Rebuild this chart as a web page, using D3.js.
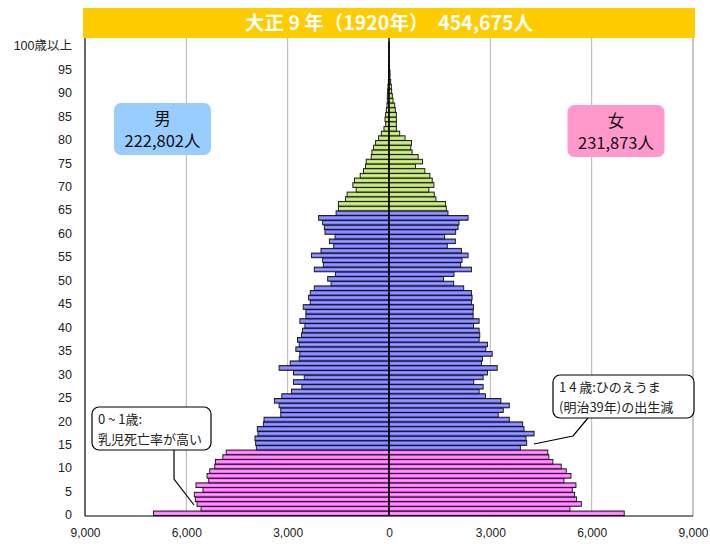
<!DOCTYPE html>
<html>
<head>
<meta charset="utf-8">
<script src="https://cdn.jsdelivr.net/npm/d3@7"></script>
<style>
body { margin: 0; background: #fff; }
text { font-family: "Liberation Sans", Arial, "Noto Sans CJK JP", sans-serif; }
.jp { font-family: "Noto Sans CJK JP", "Liberation Sans", sans-serif; }
</style>
</head>
<body>
<div id="chart"></div>
<script>
// 大正9年（1920年） population by single year of age, 0 .. 100+
var ages = d3.range(0, 101);
var ageTicks = [0, 5, 10, 15, 20, 25, 30, 35, 40, 45, 50, 55, 60, 65, 70, 75, 80, 85, 90, 95, 100];
var popTicks = [-9000, -6000, -3000, 0, 3000, 6000, 9000];

var male = [6974,5565,5684,5734,5764,5506,5714,5337,5387,5307,
  5158,5139,4920,4821,3928,3948,3968,3879,3899,3720,
  3700,3204,3204,3254,3393,3174,2887,2579,2827,2510,
  2827,3254,2926,2659,2639,2758,2659,2708,2589,2559,
  2490,2639,2460,2460,2540,2331,2381,2331,2212,1716,
  1815,1587,2212,1944,1964,2292,2014,1637,1766,1597,
  1895,1915,1964,2083,1567,1498,1498,1290,1240,972,
  1071,1022,853,754,694,675,526,506,456,397,
  308,228,149,99,119,99,79,60,50,50,
  40,30,20,10,10,5,3,2,1,1,1];

var female = [6964,5357,5694,5555,5496,5426,5535,5178,5387,5248,
  5099,4851,4732,4702,3889,4077,4057,4295,3998,3958,
  3561,3234,3383,3561,3313,2857,2668,2787,2510,2787,
  2916,3204,2738,2768,3055,2867,2916,2668,2688,2668,
  2500,2668,2490,2490,2500,2440,2460,2440,2212,1915,
  1617,1924,2440,2123,2163,2341,2143,1726,1964,1647,
  1974,2044,2073,2341,1746,1696,1676,1389,1339,1180,
  1329,1280,1210,1061,784,992,863,684,645,665,
  476,317,218,218,218,218,188,169,119,99,
  79,69,50,30,30,15,8,5,3,2,2];

var title = "大正 9 年（1920年）　454,675人";
var maleLabel = ["男", "222,802人"];
var femaleLabel = ["女", "231,873人"];
var note1 = ["0 ~ 1歳:", "乳児死亡率が高い"];
var note2 = ["1 4 歳:ひのえうま", "(明治39年)の出生減"];

var width = 710, height = 544;
var plot = {left: 85, right: 693, top: 38, bottom: 516};

var svg = d3.select("#chart").append("svg")
  .attr("width", width)
  .attr("height", height);

var x = d3.scaleLinear().domain([-9000, 9000]).range([plot.left, plot.right]);
var y = d3.scaleBand().domain(ages).range([515.7, 42]).paddingInner(0);

// gradients, one per age group
var groups = [
  {id: "g0", dark: "#f23cf2", light: "#ffa6ff"},
  {id: "g1", dark: "#4f4fe6", light: "#a0a0ff"},
  {id: "g2", dark: "#98c43a", light: "#d8efa0"}
];
var defs = svg.append("defs");
groups.forEach(function(g) {
  var lg = defs.append("linearGradient").attr("id", g.id)
    .attr("x1", 0).attr("y1", 0).attr("x2", 0).attr("y2", 1);
  lg.append("stop").attr("offset", "0%").attr("stop-color", g.dark);
  lg.append("stop").attr("offset", "50%").attr("stop-color", g.light);
  lg.append("stop").attr("offset", "100%").attr("stop-color", g.dark);
});
function groupOf(a) {
  if (a < 14) return "g0";
  if (a < 65) return "g1";
  return "g2";
}

// gridlines
svg.append("g").selectAll("line.grid")
  .data([-6000, -3000, 3000, 6000])
  .enter().append("line")
  .attr("x1", function(d) { return x(d); })
  .attr("x2", function(d) { return x(d); })
  .attr("y1", plot.top).attr("y2", plot.bottom)
  .attr("stroke", "#b4b4b4").attr("stroke-width", 1);

svg.append("line")
  .attr("x1", x(9000)).attr("x2", x(9000))
  .attr("y1", plot.top).attr("y2", plot.bottom)
  .attr("stroke", "#8c8c8c").attr("stroke-width", 1);

// bars
var bars = svg.append("g");
bars.selectAll("rect.m")
  .data(ages)
  .enter().append("rect")
  .attr("class", "m")
  .attr("x", function(a) { return x(-male[a]); })
  .attr("y", function(a) { return y(a); })
  .attr("width", function(a) { return x(0) - x(-male[a]); })
  .attr("height", y.bandwidth())
  .attr("fill", function(a) { return "url(#" + groupOf(a) + ")"; })
  .attr("stroke", "#111").attr("stroke-width", 0.9);

bars.selectAll("rect.f")
  .data(ages)
  .enter().append("rect")
  .attr("class", "f")
  .attr("x", x(0))
  .attr("y", function(a) { return y(a); })
  .attr("width", function(a) { return x(female[a]) - x(0); })
  .attr("height", y.bandwidth())
  .attr("fill", function(a) { return "url(#" + groupOf(a) + ")"; })
  .attr("stroke", "#111").attr("stroke-width", 0.9);

// axes lines
svg.append("line")
  .attr("x1", x(0)).attr("x2", x(0))
  .attr("y1", plot.top).attr("y2", plot.bottom)
  .attr("stroke", "#000").attr("stroke-width", 1.4);
svg.append("line")
  .attr("x1", plot.left).attr("x2", plot.left)
  .attr("y1", plot.top).attr("y2", plot.bottom)
  .attr("stroke", "#000").attr("stroke-width", 1.2);
svg.append("line")
  .attr("x1", plot.left).attr("x2", plot.right)
  .attr("y1", plot.bottom).attr("y2", plot.bottom)
  .attr("stroke", "#000").attr("stroke-width", 1.2);

// y axis labels
var yAxis = d3.axisLeft(y)
  .tickValues(ageTicks)
  .tickSize(0)
  .tickPadding(13)
  .tickFormat(function(d) { return d == 100 ? "100歳以上" : d; });
var ya = svg.append("g")
  .attr("transform", "translate(" + plot.left + ",2)")
  .call(yAxis);
ya.select(".domain").remove();
ya.selectAll("text").attr("font-size", 12.5).attr("fill", "#222")
  .style("font-family", '"Liberation Sans", Arial, "Noto Sans CJK JP", sans-serif');

// x axis labels
var xAxis = d3.axisBottom(x)
  .tickValues(popTicks)
  .tickSize(0)
  .tickPadding(12)
  .tickFormat(function(d) { return d3.format(",")(Math.abs(d)); });
var xa = svg.append("g")
  .attr("transform", "translate(0," + plot.bottom + ")")
  .call(xAxis);
xa.select(".domain").remove();
xa.selectAll("text").attr("font-size", 12).attr("fill", "#222")
  .style("font-family", '"Liberation Sans", Arial, sans-serif');

// title bar
svg.append("rect")
  .attr("x", 83).attr("y", 8).attr("width", 612).attr("height", 30)
  .attr("fill", "#ffcc00");
svg.append("text")
  .attr("class", "jp")
  .attr("x", 389).attr("y", 30)
  .attr("text-anchor", "middle")
  .attr("font-size", 19.5).attr("font-weight", "bold")
  .attr("fill", "#fff")
  .text(title);

// legend boxes
function legendBox(cx, top, fill, lines) {
  svg.append("rect")
    .attr("x", cx - 48.5).attr("y", top).attr("width", 97).attr("height", 52)
    .attr("rx", 7).attr("fill", fill);
  svg.selectAll(null).data(lines).enter().append("text")
    .attr("class", "jp")
    .attr("x", cx)
    .attr("y", function(d, i) { return top + 22 + i * 22; })
    .attr("text-anchor", "middle")
    .attr("font-size", 16.5).attr("fill", "#111")
    .text(function(d) { return d; });
}
legendBox(162.5, 103, "#99ccff", maleLabel);
legendBox(616, 105, "#ff99cc", femaleLabel);

// annotations
function note(x0, y0, w, h, lines, path) {
  svg.append("path")
    .attr("d", d3.line()(path))
    .attr("fill", "none").attr("stroke", "#000").attr("stroke-width", 1.2);
  svg.append("rect")
    .attr("x", x0).attr("y", y0).attr("width", w).attr("height", h)
    .attr("rx", 7).attr("fill", "#fff")
    .attr("stroke", "#000").attr("stroke-width", 1.2);
  svg.selectAll(null).data(lines).enter().append("text")
    .attr("class", "jp")
    .attr("x", x0 + 6)
    .attr("y", function(d, i) { return y0 + 17 + i * 19.5; })
    .attr("font-size", 13).attr("fill", "#222")
    .text(function(d) { return d; });
}
note(92, 407, 119, 43, note1, [[174, 450], [174, 479], [194, 505]]);
note(553, 375, 141, 43, note2, [[588, 418], [573, 436], [534, 444]]);
</script>
</body>
</html>
